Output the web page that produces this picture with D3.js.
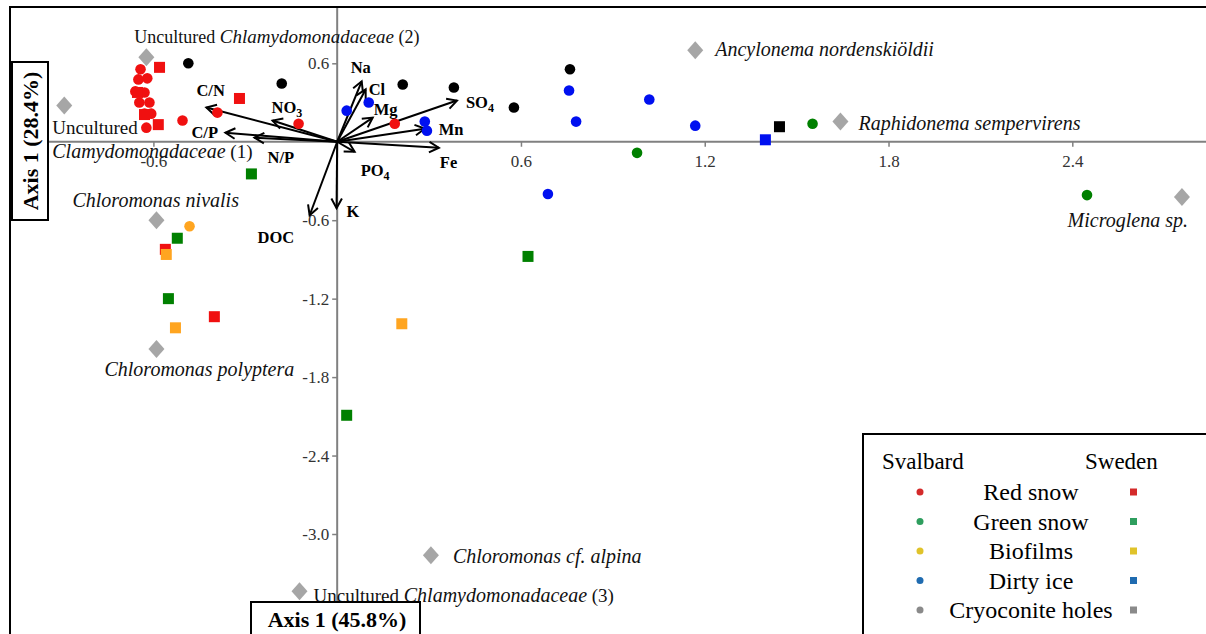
<!DOCTYPE html>
<html>
<head>
<meta charset="utf-8">
<script src="https://cdn.jsdelivr.net/npm/d3@7"></script>
<style>
  body { margin: 0; background: #fff; }
  svg { display: block; font-family: "Liberation Serif", "Times New Roman", serif; }
  svg text { font-family: "Liberation Serif", "Times New Roman", serif; }
</style>
</head>
<body>
<div id="chart"></div>
<script>
// Data (axis 1 score, axis 2 score)
const svalbard_red = [
    [-0.642, 0.554], [-0.620, 0.485], [-0.649, 0.477], [-0.659, 0.385], [-0.629, 0.377],
    [-0.646, 0.300], [-0.613, 0.300], [-0.629, 0.215], [-0.607, 0.215], [-0.623, 0.108],
    [-0.505, 0.162], [-0.391, 0.223], [-0.126, 0.138], [0.188, 0.138]
];
const sweden_red = [[-0.580, 0.569], [-0.652, 0.377], [-0.629, 0.208], [-0.584, 0.131], [-0.319, 0.331], [-0.561, -0.823], [-0.401, -1.338]];
const svalbard_green = [[0.979, -0.085], [1.552, 0.138], [2.448, -0.408]];
const sweden_green = [[-0.280, -0.246], [-0.522, -0.738], [-0.551, -1.200], [0.623, -0.877], [0.031, -2.092]];
const svalbard_biofilm = [[-0.482, -0.646]];
const sweden_biofilm = [[-0.558, -0.862], [-0.528, -1.423], [0.211, -1.392]];
const svalbard_dirty = [[0.031, 0.238], [0.103, 0.300], [0.286, 0.154], [0.293, 0.085], [0.757, 0.392], [0.780, 0.154], [1.019, 0.323], [1.169, 0.123], [0.688, -0.400]];
const sweden_dirty = [[1.398, 0.015]];
const svalbard_cryo = [[-0.486, 0.600], [-0.181, 0.446], [0.214, 0.438], [0.381, 0.415], [0.577, 0.262], [0.760, 0.554]];
const sweden_cryo = [[1.444, 0.115]];

const species = [
    'Uncultured Chlamydomonadaceae (2)', 'Uncultured Clamydomonadaceae (1)', 'Chloromonas nivalis',
    'Chloromonas polyptera', 'Ancylonema nordenskiöldii', 'Raphidonema sempervirens',
    'Microglena sp.', 'Chloromonas cf. alpina', 'Uncultured Chlamydomonadaceae (3)'
];
const species_x = [-0.623, -0.891, -0.590, -0.590, 1.169, 1.643, 2.758, 0.306, -0.123];
const species_y = [0.646, 0.277, -0.600, -1.585, 0.700, 0.154, -0.423, -3.162, -3.438];

const variables = ['C/N', 'C/P', 'N/P', 'NO3', 'Na', 'Cl', 'Mg', 'SO4', 'Mn', 'Fe', 'PO4', 'K', 'DOC'];
const variables_x = [-0.427, -0.365, -0.270, -0.211, 0.080, 0.093, 0.116, 0.391, 0.286, 0.332, 0.057, -0.002, -0.090];
const variables_y = [0.262, 0.069, 0.031, 0.162, 0.462, 0.400, 0.185, 0.315, 0.100, -0.046, -0.077, -0.508, -0.562];

const x_ticks = [-0.6, 0.6, 1.2, 1.8, 2.4];
const y_ticks = [-3.0, -2.4, -1.8, -1.2, -0.6, 0.6];
const habitats = ['Red snow', 'Green snow', 'Biofilms', 'Dirty ice', 'Cryoconite holes'];

const chart_width = 1206;
const chart_height = 634;
const serif = '"Liberation Serif", "Times New Roman", serif';

// Scales
const x_scale = d3.scaleLinear().domain([-0.6, 2.4]).range([153.4, 1072.3]);
const y_scale = d3.scaleLinear().domain([0.6, -3.0]).range([63.3, 534]);
const x0 = x_scale(0), y0 = y_scale(0);

const svg = d3.select('#chart')
    .append('svg')
    .attr('width', chart_width)
    .attr('height', chart_height)
    .attr('font-family', serif);

svg.append('rect').attr('width', chart_width).attr('height', chart_height).attr('fill', '#fff');

// Frame
svg.append('rect')
    .attr('x', 10).attr('y', 7)
    .attr('width', 1250).attr('height', 700)
    .attr('fill', 'none').attr('stroke', '#000').attr('stroke-width', 2);

// Axis lines through the origin
svg.append('line')
    .attr('x1', 11).attr('x2', chart_width)
    .attr('y1', y0).attr('y2', y0)
    .attr('stroke', '#808080').attr('stroke-width', 2);
svg.append('line')
    .attr('x1', x0).attr('x2', x0)
    .attr('y1', 8).attr('y2', 604)
    .attr('stroke', '#808080').attr('stroke-width', 2);

const fmt = d => d3.format('.1f')(d).replace('−', '-');

const x_axis = svg.append('g')
    .attr('transform', `translate(0,${y0})`)
    .call(d3.axisBottom(x_scale).tickValues(x_ticks).tickSize(5).tickPadding(8).tickFormat(fmt));
const y_axis = svg.append('g')
    .attr('transform', `translate(${x0},0)`)
    .call(d3.axisLeft(y_scale).tickValues(y_ticks).tickSize(5).tickPadding(3).tickFormat(fmt));

[x_axis, y_axis].forEach(a => {
    a.attr('font-family', serif);
    a.select('.domain').remove();
    a.selectAll('line').attr('stroke', '#808080').attr('stroke-width', 1.5);
    a.selectAll('text')
        .attr('font-size', 17)
        .attr('fill', '#333');
});

// Environmental vectors
const arrow_label = {
    'C/N': [-10, -11], 'C/P': [-34, 5], 'N/P': [13, 25], 'NO3': [-1, -8],
    'Na': [-11, -8], 'Cl': [3, 6], 'Mg': [1, -3], 'SO4': [9, 7],
    'Mn': [14, 6], 'Fe': [1, 20], 'PO4': [6, 24], 'K': [10, 9], 'DOC': [-52, 28]
};
const arrows = svg.append('g').attr('stroke', '#000').attr('stroke-width', 2).attr('fill', 'none');
variables.forEach((v, i) => {
    const tx = x_scale(variables_x[i]), ty = y_scale(variables_y[i]);
    const ang = Math.atan2(ty - y0, tx - x0);
    const h = 11, a = 0.5;
    arrows.append('line').attr('x1', x0).attr('y1', y0).attr('x2', tx).attr('y2', ty);
    arrows.append('path')
        .attr('d', `M${tx - h * Math.cos(ang - a)},${ty - h * Math.sin(ang - a)}L${tx},${ty}L${tx - h * Math.cos(ang + a)},${ty - h * Math.sin(ang + a)}`);

    const t = svg.append('text')
        .attr('x', tx + arrow_label[v][0])
        .attr('y', ty + arrow_label[v][1])
        .attr('font-size', 16.5)
        .attr('font-weight', 'bold');
    const m = v.match(/^(.*?)(\d)$/);
    if (m) {
        t.append('tspan').text(m[1]);
        t.append('tspan').attr('font-size', 12).attr('dy', 4).text(m[2]);
    } else {
        t.text(v);
    }
});

// Samples
const shape = (data, color, square) => {
    const g = svg.append('g').attr('fill', color);
    if (square) {
        g.selectAll('rect').data(data).enter().append('rect')
            .attr('x', d => x_scale(d[0]) - 5.5)
            .attr('y', d => y_scale(d[1]) - 5.5)
            .attr('width', 11).attr('height', 11);
    } else {
        g.selectAll('circle').data(data).enter().append('circle')
            .attr('cx', d => x_scale(d[0]))
            .attr('cy', d => y_scale(d[1]))
            .attr('r', 5.3);
    }
};
shape(svalbard_red, '#f01010', false);
shape(svalbard_green, '#008000', false);
shape(svalbard_biofilm, '#ffa520', false);
shape(svalbard_dirty, '#0010f0', false);
shape(svalbard_cryo, '#000', false);
shape(sweden_red, '#f01010', true);
shape(sweden_green, '#008000', true);
shape(sweden_biofilm, '#ffa520', true);
shape(sweden_dirty, '#0010f0', true);
shape(sweden_cryo, '#000', true);

// Species (diamonds + labels)
svg.append('g').selectAll('path')
    .data(species)
    .enter()
    .append('path')
    .attr('d', (d, i) => {
        const cx = x_scale(species_x[i]), cy = y_scale(species_y[i]);
        return `M${cx},${cy - 9}L${cx + 8},${cy}L${cx},${cy + 9}L${cx - 8},${cy}Z`;
    })
    .attr('fill', '#a6a6a6');

// [dx, dy, anchor, regular size, italic size]
const species_label = [
    [-12, -14, 'start', 18, 19], [-12, 28, 'start', 19, 20], [-84, -13, 'start', 19, 20], [-52, 27, 'start', 19, 20],
    [20, 6, 'start', 19, 20], [18, 8, 'start', 19, 20], [6, 30, 'end', 19, 20], [22, 8, 'start', 19, 20], [14, 11, 'start', 19, 20]
];
species.forEach((s, i) => {
    const cx = x_scale(species_x[i]), cy = y_scale(species_y[i]);
    const [dx, dy, anchor, fs, fi] = species_label[i];
    const t = svg.append('text')
        .attr('x', cx + dx).attr('y', cy + dy)
        .attr('text-anchor', anchor)
        .attr('font-size', fs)
        .attr('fill', '#111');
    if (s.startsWith('Uncultured')) {
        const parts = s.split(' ');
        if (i === 1) {
            t.text('Uncultured');
            const t2 = svg.append('text')
                .attr('x', cx + dx).attr('y', cy + dy + 24)
                .attr('font-size', fs).attr('fill', '#111');
            t2.append('tspan').attr('font-style', 'italic').attr('font-size', fi).text(parts[1]);
            t2.append('tspan').text(' ' + parts[2]);
        } else {
            t.append('tspan').text('Uncultured ');
            t.append('tspan').attr('font-style', 'italic').attr('font-size', fi).text(parts[1]);
            t.append('tspan').text(' ' + parts[2]);
        }
    } else {
        t.attr('font-style', 'italic').attr('font-size', fi).text(s);
    }
});

// Axis title boxes
svg.append('rect')
    .attr('x', 12).attr('y', 62).attr('width', 36).attr('height', 158)
    .attr('fill', '#fff').attr('stroke', '#000').attr('stroke-width', 2);
svg.append('text')
    .attr('transform', 'translate(38,141) rotate(-90)')
    .attr('text-anchor', 'middle')
    .attr('font-size', 22).attr('font-weight', 'bold')
    .text('Axis 1 (28.4%)');

svg.append('rect')
    .attr('x', 251).attr('y', 602).attr('width', 169).attr('height', 40)
    .attr('fill', '#fff').attr('stroke', '#000').attr('stroke-width', 2);
svg.append('text')
    .attr('x', 337).attr('y', 627)
    .attr('text-anchor', 'middle')
    .attr('font-size', 22).attr('font-weight', 'bold')
    .text('Axis 1 (45.8%)');

// Legend
const legend_colors = ['#d42a2a', '#2e9e5e', '#e0c32a', '#1f6bb0', '#8a8a8a'];
const legend = svg.append('g');
legend.append('rect')
    .attr('x', 863).attr('y', 434).attr('width', 360).attr('height', 220)
    .attr('fill', '#fff').attr('stroke', '#000').attr('stroke-width', 2);
legend.append('text').attr('x', 882).attr('y', 469).attr('font-size', 23).text('Svalbard');
legend.append('text').attr('x', 1085).attr('y', 469).attr('font-size', 23).text('Sweden');

const legend_y = d3.scalePoint().domain(habitats).range([492, 610]);
legend.selectAll('.lab')
    .data(habitats).enter()
    .append('text')
    .attr('x', 1031).attr('y', d => legend_y(d) + 8)
    .attr('text-anchor', 'middle')
    .attr('font-size', 24)
    .text(d => d);
legend.selectAll('circle')
    .data(habitats).enter()
    .append('circle')
    .attr('cx', 920).attr('cy', d => legend_y(d))
    .attr('r', 3.5)
    .attr('fill', (d, i) => legend_colors[i]);
legend.selectAll('.sq')
    .data(habitats).enter()
    .append('rect')
    .attr('x', 1130).attr('y', d => legend_y(d) - 3.5)
    .attr('width', 7).attr('height', 7)
    .attr('fill', (d, i) => legend_colors[i]);
</script>
</body>
</html>
